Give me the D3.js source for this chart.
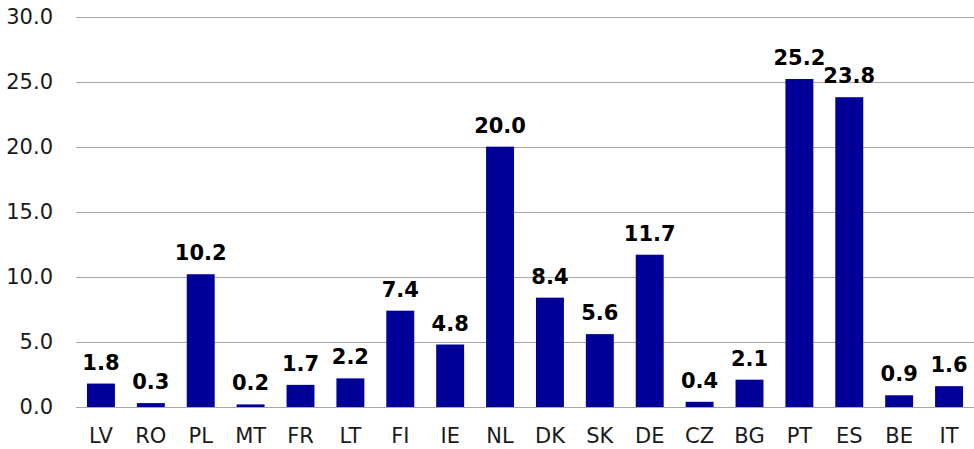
<!DOCTYPE html>
<html>
<head>
<meta charset="utf-8">
<script src="https://cdn.jsdelivr.net/npm/d3@7"></script>
<style>
  body { margin: 0; background: #fff; }
  svg { display: block; font-family: "DejaVu Sans", Verdana, sans-serif; }
</style>
</head>
<body>
<div id="chart"></div>
<script>
const countries = ["LV", "RO", "PL", "MT", "FR", "LT", "FI", "IE", "NL", "DK", "SK", "DE", "CZ", "BG", "PT", "ES", "BE", "IT"];
const values = [1.8, 0.3, 10.2, 0.2, 1.7, 2.2, 7.4, 4.8, 20.0, 8.4, 5.6, 11.7, 0.4, 2.1, 25.2, 23.8, 0.9, 1.6];
const yTicks = [0, 5, 10, 15, 20, 25, 30];

const data = countries.map((c, i) => ({ c: c, v: values[i] }));

let width = 974, height = 449;
let margin = {top: 16.5, right: 0, bottom: 42, left: 76};

let svg = d3.select("#chart").append("svg")
  .attr("width", width)
  .attr("height", height);

let x = d3.scaleBand()
  .domain(countries)
  .range([margin.left, width - margin.right])
  .paddingInner(0.44)
  .paddingOuter(0.22);

let y = d3.scaleLinear()
  .domain([0, 30])
  .range([height - margin.bottom, margin.top]);

// grid lines
svg.append("g")
  .selectAll("line")
  .data(yTicks)
  .enter().append("line")
  .attr("x1", margin.left)
  .attr("x2", width - margin.right)
  .attr("y1", d => Math.round(y(d)) + 0.5)
  .attr("y2", d => Math.round(y(d)) + 0.5)
  .attr("stroke", "#a6a6a6")
  .attr("stroke-width", 1);

// y labels
let yAxis = d3.axisLeft(y).tickValues(yTicks).tickFormat(d3.format(".1f")).tickSize(0).tickPadding(23);
let ya = svg.append("g")
  .attr("transform", `translate(${margin.left},0)`)
  .call(yAxis);
ya.select(".domain").remove();
ya.selectAll("text")
  .attr("font-size", 21)
  .attr("font-family", "DejaVu Sans, Verdana, sans-serif")
  .attr("fill", "#1a1a1a");

// bars
svg.selectAll(".bar")
  .data(data)
  .enter().append("rect")
  .attr("class", "bar")
  .attr("x", d => x(d.c))
  .attr("width", x.bandwidth())
  .attr("y", d => y(d.v))
  .attr("height", d => y(0) - y(d.v))
  .attr("fill", "#000099");

// baseline
svg.append("line")
  .attr("x1", margin.left)
  .attr("x2", width - margin.right)
  .attr("y1", Math.round(y(0)) + 0.5)
  .attr("y2", Math.round(y(0)) + 0.5)
  .attr("stroke", "#a6a6a6");

// x labels
let xAxis = d3.axisBottom(x).tickSize(0);
let xa = svg.append("g")
  .attr("transform", `translate(0,${y(0)})`)
  .call(xAxis);
xa.select(".domain").remove();
xa.selectAll("text")
  .attr("y", 36)
  .attr("dy", 0)
  .attr("font-size", 21)
  .attr("font-family", "DejaVu Sans, Verdana, sans-serif")
  .attr("fill", "#1a1a1a");

// value labels
svg.selectAll(".val")
  .data(data)
  .enter().append("text")
  .attr("class", "val")
  .attr("x", d => x(d.c) + x.bandwidth() / 2)
  .attr("y", d => y(d.v) - 14)
  .attr("text-anchor", "middle")
  .attr("font-size", 21)
  .attr("font-weight", "bold")
  .attr("fill", "#000")
  .text(d => d.v.toFixed(1));
</script>
</body>
</html>
